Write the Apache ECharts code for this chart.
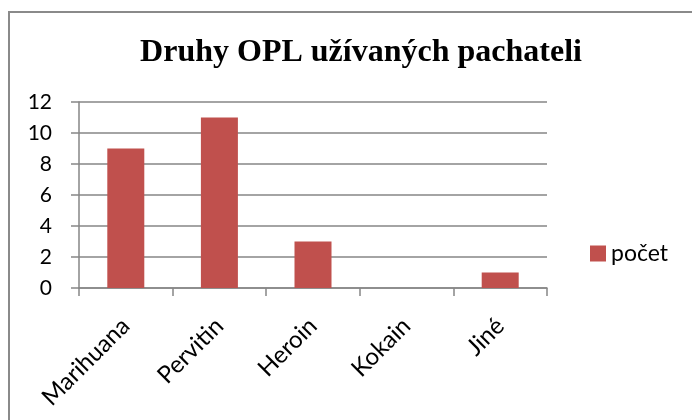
<!DOCTYPE html>
<html>
<head>
<meta charset="utf-8">
<script src="https://cdn.jsdelivr.net/npm/echarts@6/dist/echarts.min.js"></script>
<style>
	html, body { margin: 0; padding: 0; background: #fff; }
	#main { width: 692px; height: 420px; }
</style>
</head>
<body>
<div id="main"></div>
<script>
// data
var categories = ['Marihuana', 'Pervitin', 'Heroin', 'Kokain', 'Jiné'];
var pocet = [9, 11, 3, 0, 1];
var seriesName = 'počet';
var titleText = 'Druhy OPL užívaných pachateli';

var myChart = echarts.init(document.getElementById('main'));
var option = {
	backgroundColor: '#ffffff',
	animation: false,
	title: {
		text: titleText,
		left: 356,
		top: 32,
		textAlign: 'center',
		textStyle: {
			fontFamily: 'Liberation Serif',
			fontWeight: 'bold',
			fontSize: 32,
			color: '#000'
		}
	},
	grid: { left: 79, right: 145, top: 102, bottom: 132 },
	legend: {
		data: [seriesName],
		orient: 'vertical',
		left: 585,
		top: 237,
		itemWidth: 16,
		itemHeight: 16,
		itemGap: 6,
		icon: 'rect',
		textStyle: { fontFamily: 'Lato', fontSize: 23, color: '#000' }
	},
	xAxis: {
		type: 'category',
		data: categories,
		axisLine: { lineStyle: { color: '#868686', width: 1.5 } },
		axisTick: { show: true, length: 8, alignWithLabel: false, lineStyle: { color: '#868686', width: 1.5 } },
		axisLabel: {
			rotate: 45,
			margin: 34,
			interval: 0,
			fontFamily: 'Lato',
			fontSize: 24,
			color: '#000'
		}
	},
	yAxis: {
		type: 'value',
		min: 0,
		max: 12,
		interval: 2,
		axisLine: { show: true, lineStyle: { color: '#868686', width: 1.5 } },
		axisTick: { show: true, length: 8, lineStyle: { color: '#868686', width: 1.5 } },
		splitLine: { show: true, lineStyle: { color: '#868686', width: 1.5 } },
		axisLabel: {
			margin: 27,
			fontFamily: 'Lato',
			fontSize: 21,
			color: '#000'
		}
	},
	series: [
		{
			name: seriesName,
			type: 'bar',
			data: pocet,
			barWidth: 37,
			itemStyle: { color: '#C0504D' }
		}
	],
	graphic: [
		{
			type: 'polyline',
			shape: { points: [[9, 420], [9, 12], [692, 12]] },
			style: { stroke: '#8a8a8a', lineWidth: 2, fill: null }
		}
	]
};
//为echarts对象加载数据
myChart.setOption(option);
</script>
</body>
</html>
